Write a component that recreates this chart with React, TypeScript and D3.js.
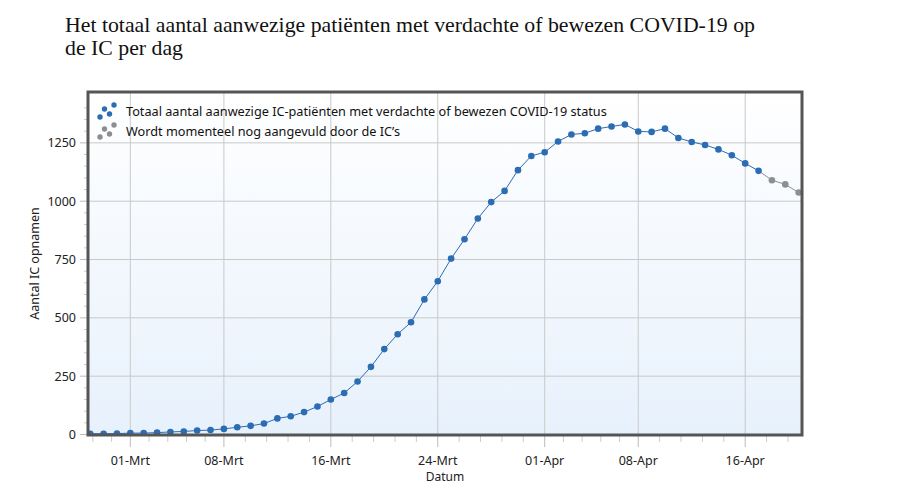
import React from "react";
import * as d3 from "d3";

// dagen (2020) en aantallen
const dates = [
  "2020-02-27", "2020-02-28", "2020-02-29",
  "2020-03-01", "2020-03-02", "2020-03-03", "2020-03-04", "2020-03-05", "2020-03-06", "2020-03-07",
  "2020-03-08", "2020-03-09", "2020-03-10", "2020-03-11", "2020-03-12", "2020-03-13", "2020-03-14",
  "2020-03-15", "2020-03-16", "2020-03-17", "2020-03-18", "2020-03-19", "2020-03-20", "2020-03-21",
  "2020-03-22", "2020-03-23", "2020-03-24", "2020-03-25", "2020-03-26", "2020-03-27", "2020-03-28",
  "2020-03-29", "2020-03-30", "2020-03-31",
  "2020-04-01", "2020-04-02", "2020-04-03", "2020-04-04", "2020-04-05", "2020-04-06", "2020-04-07",
  "2020-04-08", "2020-04-09", "2020-04-10", "2020-04-11", "2020-04-12", "2020-04-13", "2020-04-14",
  "2020-04-15", "2020-04-16", "2020-04-17",
];
const totaal = [
  3, 3, 4,
  6, 6, 8, 11, 13, 17, 19,
  24, 31, 37, 47, 69, 78, 96,
  120, 150, 178, 227, 290, 366, 430,
  481, 579, 657, 754, 837, 926, 996,
  1044, 1133, 1194,
  1210, 1256, 1286, 1291, 1311, 1320, 1329,
  1299, 1297, 1311, 1271, 1254, 1241, 1222,
  1197, 1162, 1130,
];
const aanvulDates = ["2020-04-17", "2020-04-18", "2020-04-19", "2020-04-20"];
const aanvul = [1130, 1090, 1072, 1037];

const tickDates = ["2020-03-01", "2020-03-08", "2020-03-16", "2020-03-24", "2020-04-01", "2020-04-08", "2020-04-16"];
const tickLabels = ["01-Mrt", "08-Mrt", "16-Mrt", "24-Mrt", "01-Apr", "08-Apr", "16-Apr"];
const yTicks = [0, 250, 500, 750, 1000, 1250];

const legendLabels = [
  "Totaal aantal aanwezige IC-patiënten met verdachte of bewezen COVID-19 status",
  "Wordt momenteel nog aangevuld door de IC\u2019s",
];

const BLUE = "#2b6cb3";
const GREY = "#8e8e8e";
const FONT = "'Noto Sans', 'DejaVu Sans', sans-serif";

const parse = d3.timeParse("%Y-%m-%d");

const App = () => {
  const width = 897;
  const height = 493;
  const left = 88, right = 802, top = 92, bottom = 435;

  const x = d3.scaleTime()
    .domain([d3.timeHour.offset(parse("2020-02-27")!, -4), d3.timeHour.offset(parse("2020-04-20")!, 6)])
    .range([left, right]);
  const y = d3.scaleLinear().domain([0, 1468]).range([434.5, top]);

  const blue = totaal.map((v, i) => ({ d: parse(dates[i])!, v }));
  const grey = aanvul.map((v, i) => ({ d: parse(aanvulDates[i])!, v }));

  const line = d3.line<{ d: Date; v: number }>().x(p => x(p.d)).y(p => y(p.v));

  const majors = tickDates.map(t => parse(t)!);
  // kleine streepjes: 5 stukjes per interval
  const minors: number[] = [];
  majors.forEach((m, i) => {
    const a = x(m);
    const b = i < majors.length - 1 ? x(majors[i + 1]) : a + (a - x(majors[i - 1]));
    for (let k = 1; k < 5; k++) minors.push(a + ((b - a) * k) / 5);
    if (i === 0) for (let k = 1; k < 5; k++) minors.push(a - ((b - a) * k) / 5);
  });
  const yMinors = d3.range(50, 1450, 50).filter(v => v % 250 !== 0);

  const icon = (cx: number, cy: number, color: string) => (
    <g fill={color}>
      <circle cx={cx} cy={cy + 6} r={2.7} />
      <circle cx={cx + 4.5} cy={cy - 2} r={2.7} />
      <circle cx={cx + 9.5} cy={cy + 3} r={2.7} />
      <circle cx={cx + 14} cy={cy - 6} r={2.7} />
    </g>
  );

  return (
    <svg width={width} height={height} viewBox={`0 0 ${width} ${height}`}
      style={{ display: "block", position: "absolute", left: 0, top: 0 }}>
      <defs>
        <linearGradient id="bg" x1="0" y1="0" x2="0" y2="1">
          <stop offset="0" stopColor="#ffffff" />
          <stop offset="1" stopColor="#e7f1fc" />
        </linearGradient>
        <clipPath id="plot">
          <rect x={left} y={top} width={right - left} height={bottom - top} />
        </clipPath>
      </defs>

      <g fontFamily="'Liberation Serif', serif" fontSize={21.8} fill="#111">
        <text x={65} y={32}>Het totaal aantal aanwezige patiënten met verdachte of bewezen COVID-19 op</text>
        <text x={65} y={55}>de IC per dag</text>
      </g>

      <rect x={left} y={top} width={right - left} height={bottom - top} fill="url(#bg)" />

      {yTicks.map(t => (
        <line key={t} x1={left} x2={right} y1={y(t)} y2={y(t)} stroke="#c9c9c9" />
      ))}
      {majors.map((m, i) => (
        <line key={i} x1={x(m)} x2={x(m)} y1={top} y2={bottom} stroke="#c9c9c9" />
      ))}

      {/* assen */}
      {yTicks.map(t => (
        <g key={t}>
          <line x1={80} x2={left} y1={y(t)} y2={y(t)} stroke="#bbb" />
          <text x={76} y={y(t) + 4.5} textAnchor="end" fontFamily={FONT} fontSize={12.5} fill="#222">{t}</text>
        </g>
      ))}
      {yMinors.map(t => (
        <line key={t} x1={84} x2={left} y1={y(t)} y2={y(t)} stroke="#ccc" />
      ))}
      {majors.map((m, i) => (
        <g key={i}>
          <line x1={x(m)} x2={x(m)} y1={bottom} y2={447} stroke="#bbb" />
          <text x={x(m)} y={465} textAnchor="middle" fontFamily={FONT} fontSize={12.5} fill="#222">{tickLabels[i]}</text>
        </g>
      ))}
      {minors.filter(v => v > left && v < right).map((v, i) => (
        <line key={i} x1={v} x2={v} y1={bottom} y2={442} stroke="#ccc" />
      ))}
      <text x={445} y={481} textAnchor="middle" fontFamily={FONT} fontSize={12} fill="#222">Datum</text>
      <text transform={`translate(39,${(top + bottom) / 2}) rotate(-90)`} textAnchor="middle"
        fontFamily={FONT} fontSize={12.5} fill="#222">Aantal IC opnamen</text>

      <g clipPath="url(#plot)">
        <path d={line(grey)!} fill="none" stroke={GREY} strokeWidth={1} />
        <path d={line(blue)!} fill="none" stroke={BLUE} strokeWidth={1} />
        {grey.slice(1).map((p, i) => (
          <circle key={i} cx={x(p.d)} cy={y(p.v)} r={3.3} fill={GREY} />
        ))}
        {blue.map((p, i) => (
          <circle key={i} cx={x(p.d)} cy={y(p.v)} r={3.3} fill={BLUE} />
        ))}
      </g>

      <rect x={left} y={top} width={right - left} height={bottom - top} fill="none" stroke="#555" strokeWidth={3} />

      {/* legenda */}
      {icon(100, 111, BLUE)}
      {icon(100, 131, GREY)}
      {legendLabels.map((l, i) => (
        <text key={i} x={126} y={116 + i * 20} fontFamily={FONT} fontSize={12.7} fill="#111">{l}</text>
      ))}
    </svg>
  );
};

export default App;
